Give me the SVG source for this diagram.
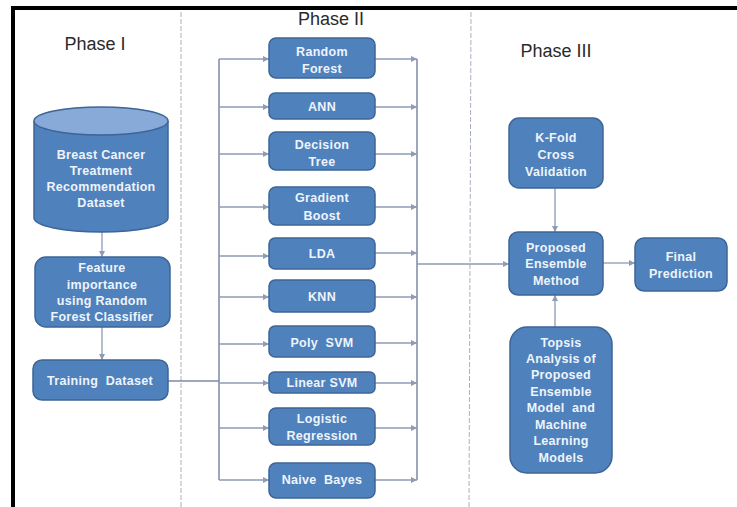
<svg xmlns="http://www.w3.org/2000/svg" width="737" height="507" viewBox="0 0 737 507">
<style>
.bx{fill:#4f81bd;stroke:#3d6596;stroke-width:1.5}
.t{font-family:"Liberation Sans",Arial,sans-serif;font-size:12.5px;font-weight:bold;fill:#eef4fb;text-anchor:middle;letter-spacing:0.3px;white-space:pre}
.h{font-family:"Liberation Sans",Arial,sans-serif;font-size:18px;fill:#2a2a2a;text-anchor:middle}
.c{stroke:#8d9bb3;stroke-width:1.3;fill:none}
.cb{stroke:#7d8aa3;stroke-width:1.5;fill:none}
.sep{stroke:#a9b0bd;stroke-width:1;stroke-dasharray:5 2;fill:none}
</style>
<defs>
<marker id="ah" markerWidth="7" markerHeight="7" refX="6" refY="3.5" orient="auto" markerUnits="userSpaceOnUse">
<path d="M0,0.5 L6,3.5 L0,6.5 Z" fill="#8d9bb3"/>
</marker>
</defs>
<rect width="737" height="507" fill="#ffffff"/>
<path d="M13,507 V8 H737" fill="none" stroke="#000" stroke-width="4"/>
<line class="sep" x1="181" y1="12" x2="181" y2="507"/>
<line class="sep" x1="471" y1="12" x2="469" y2="507"/>
<text class="h" x="95" y="50">Phase I</text>
<text class="h" x="331" y="25">Phase II</text>
<text class="h" x="556" y="57">Phase III</text>

<g id="connectors">
<line class="c" x1="102" y1="232" x2="102" y2="257" marker-end="url(#ah)"/>
<line class="c" x1="102" y1="327" x2="102" y2="360" marker-end="url(#ah)"/>
<line class="cb" x1="168" y1="381" x2="219" y2="381"/>
<line class="cb" x1="219" y1="59" x2="219" y2="480"/>
<line class="cb" x1="417" y1="59" x2="417" y2="480"/>
<g class="c">
<line x1="219" y1="59" x2="269" y2="59" marker-end="url(#ah)"/>
<line x1="219" y1="107" x2="269" y2="107" marker-end="url(#ah)"/>
<line x1="219" y1="154" x2="269" y2="154" marker-end="url(#ah)"/>
<line x1="219" y1="207" x2="269" y2="207" marker-end="url(#ah)"/>
<line x1="219" y1="256" x2="269" y2="256" marker-end="url(#ah)"/>
<line x1="219" y1="297" x2="269" y2="297" marker-end="url(#ah)"/>
<line x1="219" y1="344" x2="269" y2="344" marker-end="url(#ah)"/>
<line x1="219" y1="383" x2="269" y2="383" marker-end="url(#ah)"/>
<line x1="219" y1="428" x2="269" y2="428" marker-end="url(#ah)"/>
<line x1="219" y1="480" x2="269" y2="480" marker-end="url(#ah)"/>
<line x1="375" y1="59" x2="417" y2="59" marker-end="url(#ah)"/>
<line x1="375" y1="107" x2="417" y2="107" marker-end="url(#ah)"/>
<line x1="375" y1="154" x2="417" y2="154" marker-end="url(#ah)"/>
<line x1="375" y1="207" x2="417" y2="207" marker-end="url(#ah)"/>
<line x1="375" y1="253" x2="417" y2="253" marker-end="url(#ah)"/>
<line x1="375" y1="297" x2="417" y2="297" marker-end="url(#ah)"/>
<line x1="375" y1="343" x2="417" y2="343" marker-end="url(#ah)"/>
<line x1="375" y1="383" x2="417" y2="383" marker-end="url(#ah)"/>
<line x1="375" y1="428" x2="417" y2="428" marker-end="url(#ah)"/>
<line x1="375" y1="480" x2="417" y2="480" marker-end="url(#ah)"/>
</g>
<line class="c" x1="417" y1="264" x2="509" y2="264" marker-end="url(#ah)"/>
<line class="c" x1="555" y1="188" x2="555" y2="232" marker-end="url(#ah)"/>
<line class="c" x1="555" y1="327" x2="555" y2="295" marker-end="url(#ah)"/>
<line class="c" x1="603" y1="263" x2="635" y2="263" marker-end="url(#ah)"/>
</g>

<g id="dataset">
<path class="bx" d="M34,121 V218 A67,14 0 0 0 168,218 V121"/>
<ellipse cx="101" cy="121" rx="67" ry="14" fill="#87aad8" stroke="#3d6596" stroke-width="1.5"/>
<text class="t" x="101" y="159">Breast Cancer</text>
<text class="t" x="101" y="175">Treatment</text>
<text class="t" x="101" y="191">Recommendation</text>
<text class="t" x="101" y="207">Dataset</text>
</g>
<g id="feature">
<rect class="bx" x="35" y="257" width="135" height="70" rx="11"/>
<text class="t" x="102" y="272">Feature</text>
<text class="t" x="102" y="289">importance</text>
<text class="t" x="102" y="305">using Random</text>
<text class="t" x="102" y="321">Forest Classifier</text>
</g>
<g id="training">
<rect class="bx" x="33" y="360" width="135" height="40" rx="9"/>
<text class="t" x="100" y="385">Training  Dataset</text>
</g>

<g id="rf"><rect class="bx" x="269" y="38" width="106" height="40" rx="7"/>
<text class="t" x="322" y="56">Random</text><text class="t" x="322" y="73">Forest</text></g>
<g id="ann"><rect class="bx" x="269" y="93" width="106" height="26" rx="6"/>
<text class="t" x="322" y="111">ANN</text></g>
<g id="dt"><rect class="bx" x="269" y="132" width="106" height="38" rx="7"/>
<text class="t" x="322" y="149">Decision</text><text class="t" x="322" y="166">Tree</text></g>
<g id="gb"><rect class="bx" x="269" y="187" width="106" height="38" rx="7"/>
<text class="t" x="322" y="202">Gradient</text><text class="t" x="322" y="220">Boost</text></g>
<g id="lda"><rect class="bx" x="269" y="238" width="106" height="31" rx="6"/>
<text class="t" x="322" y="258">LDA</text></g>
<g id="knn"><rect class="bx" x="269" y="280" width="106" height="32" rx="6"/>
<text class="t" x="322" y="301">KNN</text></g>
<g id="poly"><rect class="bx" x="269" y="326" width="106" height="31" rx="6"/>
<text class="t" x="322" y="347">Poly  SVM</text></g>
<g id="linear"><rect class="bx" x="269" y="372" width="106" height="21" rx="5"/>
<text class="t" x="322" y="387">Linear SVM</text></g>
<g id="lr"><rect class="bx" x="269" y="408" width="106" height="37" rx="7"/>
<text class="t" x="322" y="423">Logistic</text><text class="t" x="322" y="440">Regression</text></g>
<g id="nb"><rect class="bx" x="269" y="463" width="106" height="35" rx="7"/>
<text class="t" x="322" y="484">Naive  Bayes</text></g>

<g id="kfold"><rect class="bx" x="509" y="118" width="94" height="70" rx="10"/>
<text class="t" x="556" y="142">K-Fold</text><text class="t" x="556" y="159">Cross</text><text class="t" x="556" y="176">Validation</text></g>
<g id="ensemble"><rect class="bx" x="509" y="232" width="94" height="63" rx="9"/>
<text class="t" x="556" y="252">Proposed</text><text class="t" x="556" y="268">Ensemble</text><text class="t" x="556" y="285">Method</text></g>
<g id="final"><rect class="bx" x="635" y="238" width="92" height="53" rx="9"/>
<text class="t" x="681" y="261">Final</text><text class="t" x="681" y="278">Prediction</text></g>
<g id="topsis"><rect class="bx" x="510" y="327" width="102" height="146" rx="17"/>
<text class="t" x="561" y="347">Topsis</text>
<text class="t" x="561" y="363">Analysis of</text>
<text class="t" x="561" y="379">Proposed</text>
<text class="t" x="561" y="396">Ensemble</text>
<text class="t" x="561" y="412">Model  and</text>
<text class="t" x="561" y="429">Machine</text>
<text class="t" x="561" y="445">Learning</text>
<text class="t" x="561" y="462">Models</text></g>
</svg>
